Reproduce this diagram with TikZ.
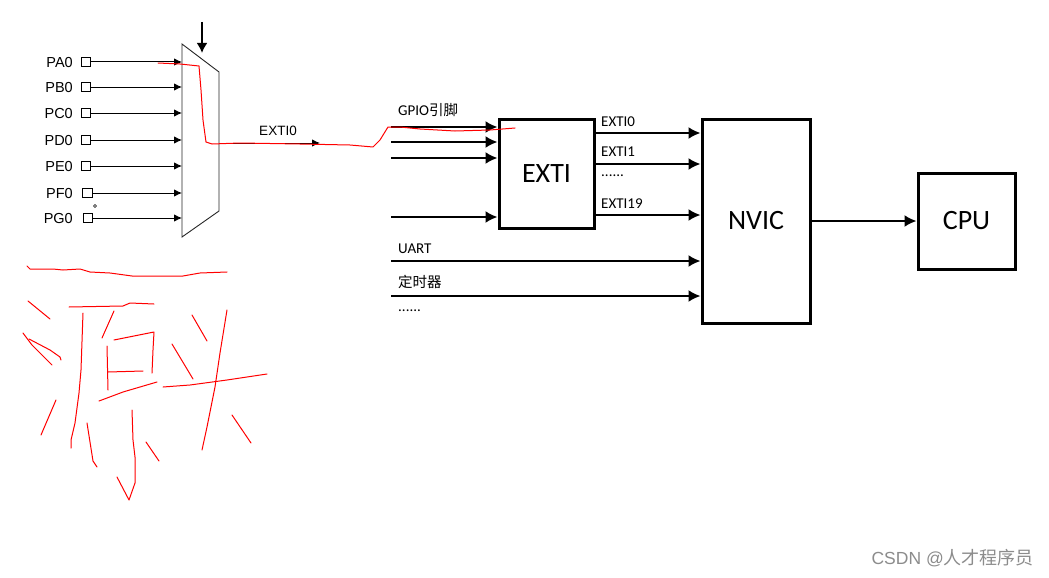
\documentclass[tikz,border=0pt]{standalone}
\usepackage{fontspec}
\setmainfont{Liberation Sans}
\newfontfamily\calfont{Carlito}
\newfontfamily\cjk{Noto Sans CJK SC}
\usetikzlibrary{arrows.meta}
\begin{document}
\begin{tikzpicture}[x=1pt,y=-1pt,
  tarr/.style={line width=1pt,-{Latex[length=8pt,width=7.5pt]}},
  barr/.style={line width=2pt,-{Latex[length=12pt,width=12pt]}},
  bigbox/.style={draw,line width=3pt,inner sep=0pt,font=\calfont\fontsize{28}{30}\selectfont},
  sq/.style={draw,line width=1.3pt,minimum size=9.5pt,inner sep=0pt},
  plab/.style={anchor=east,font=\fontsize{14.5}{16}\selectfont,inner sep=0pt},
  slab/.style={anchor=west,font=\calfont\fontsize{15}{17}\selectfont,inner sep=0pt},
  redline/.style={draw=red,line width=1pt,line join=round,line cap=round}]
\useasboundingbox (0,0) rectangle (1049,578);
\fill[white] (0,0) rectangle (1049,578);

% ---- multiplexer ----
\coordinate (m1) at (182,44);
\coordinate (m2) at (219,72);
\coordinate (m3) at (219,211);
\coordinate (m4) at (182,237);
\draw[line width=0.9pt,draw=black!85] (m1)--(m2)--(m3)--(m4)--cycle;
\coordinate (sel) at (202,22);
\coordinate (selend) at (202,53);
\draw[line width=2pt,-{Latex[length=10pt,width=11pt]}] (sel) -- (selend);

% inputs
\foreach \n/\y/\x in {A/62/86,B/87/86,C/113/86,D/140/86,E/166/86,F/193/87.5,G/218/88}{
  \node[sq] (s\n) at (\x,\y) {};
  \node[plab] (l\n) at (73,\y+1) {P\n0};
  \draw[tarr] (s\n.east) -- (s\n.east -| m1);
}
\node[circle,draw,line width=0.4pt,minimum size=3pt,inner sep=0pt] (dot) at (95,206) {};

% mux output
\coordinate (mo) at (219,143);
\coordinate (moe) at (320,143);
\draw[tarr] (mo) -- (moe);
\node[anchor=base,font=\fontsize{13.5}{15}\selectfont,inner sep=0pt] (lmo) at (278,135) {EXTI0};

% ---- EXTI / NVIC / CPU ----
\node[bigbox,minimum width=95pt,minimum height=109pt] (exti) at (546.5,173.5) {EXTI};
\node[bigbox,minimum width=108pt,minimum height=204pt] (nvic) at (756,221) {NVIC};
\node[bigbox,minimum width=97pt,minimum height=96pt] (cpu) at (966.5,221) {CPU};

\foreach \i/\y in {1/127,2/142,3/158,4/217}{
  \coordinate (g\i) at (391,\y);
  \draw[barr] (g\i) -- (g\i -| exti.west);
}
\node[slab] (lgpio) at (398,110) {GPIO{\cjk\fontsize{14.5}{16}\selectfont 引脚}};

\foreach \i/\y in {0/133,1/164,19/215}{
  \coordinate (eo\i) at (594,\y);
  \draw[barr] (eo\i -| exti.east) -- (eo\i -| nvic.west);
}
\node[slab] (le0) at (601,122) {EXTI0};
\node[slab] (le1) at (601,152) {EXTI1};
\node[slab] (ledots) at (601,176) {......};
\node[slab] (le19) at (601,204) {EXTI19};

\coordinate (u) at (391,261);
\draw[barr] (u) -- (u -| nvic.west);
\node[slab] (luart) at (398,249) {UART};
\coordinate (t) at (391,296);
\draw[barr] (t) -- (t -| nvic.west);
\node[slab] (ltim) at (398,282) {\cjk\fontsize{14.5}{16}\selectfont 定时器};
\node[slab] (ldots) at (398,311) {......};

\draw[barr] (nvic.east) -- (cpu.west);

% ---- red annotations ----
\draw[redline] (158,63) -- (180,64) -- (199,66) -- (201,90) -- (203,120) -- (206,142) -- (212,144) -- (240,143) -- (300,144) -- (350,145) -- (373,147) -- (380,140) -- (388,127) -- (400,127) -- (420,129) -- (455,131) -- (490,130) -- (515,128);

\draw[redline] (27,266) -- (30,269) -- (53,269) -- (63,270) -- (80,269) -- (90,272) -- (110,273) -- (132,276) -- (183,276) -- (200,273) -- (227,272);
\draw[redline] (28,301) -- (50,319);
\draw[redline] (23,333) -- (32,345) -- (42,355) -- (52,365);
\draw[redline] (29,339) -- (50,350) -- (60,357) -- (61,360);
\draw[redline] (56,400) -- (41,435);
\draw[redline] (69,307) -- (123,306) -- (130,303) -- (154,304);
\draw[redline] (83,313) -- (81,370) -- (79,393) -- (75,423) -- (71,440) -- (71,448);
\draw[redline] (114,311) -- (102,338);
\draw[redline] (114,340) -- (154,332) -- (153,350) -- (152,373);
\draw[redline] (107,346) -- (108,390);
\draw[redline] (108,372) -- (143,371);
\draw[redline] (99,401) -- (123,392) -- (157,382);
\draw[redline] (87,423) -- (93,461) -- (97,467);
\draw[redline] (132,410) -- (133,440) -- (135,457) -- (135,483) -- (129,500) -- (117,477);
\draw[redline] (146,442) -- (159,461);
\draw[redline] (192,315) -- (207,341);
\draw[redline] (172,344) -- (193,379);
\draw[redline] (227,310) -- (220,353) -- (215,387) -- (207,427) -- (202,450);
\draw[redline] (163,387) -- (190,385) -- (227,380) -- (267,374);
\draw[redline] (232,415) -- (251,443);

% ---- watermark ----
\node[anchor=east,text=black!45,inner sep=0pt] (wm) at (1034,558) {\fontsize{17.5}{19}\selectfont CSDN @{\cjk\fontsize{18}{20}\selectfont 人才程序员}};
\end{tikzpicture}
\end{document}
